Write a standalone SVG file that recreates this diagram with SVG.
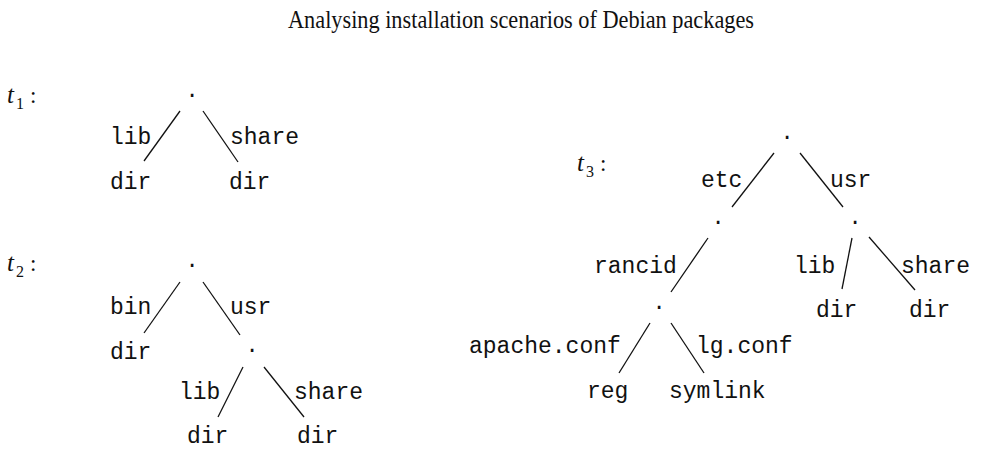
<svg xmlns="http://www.w3.org/2000/svg" width="984" height="452" viewBox="0 0 984 452">
<style>
.bg{fill:#ffffff}
.title{font-family:"Liberation Serif","DejaVu Serif",serif;font-size:25px;fill:#111}
.tv{font-family:"Liberation Serif","DejaVu Serif",serif;font-style:italic;font-size:25px;fill:#111}
.sub{font-family:"Liberation Serif","DejaVu Serif",serif;font-size:16px;fill:#111}
.col{font-family:"Liberation Serif","DejaVu Serif",serif;font-size:23px;fill:#111}
.tt{font-family:"Liberation Mono","DejaVu Sans Mono",monospace;font-size:23px;fill:#111}
.dot{font-family:"Liberation Mono","DejaVu Sans Mono",monospace;font-size:22px;fill:#111;text-anchor:middle}
.edge{stroke:#111;stroke-width:1.3;fill:none}
</style>
<rect class="bg" x="0" y="0" width="984" height="452"/>
<text class="title" x="288" y="28" textLength="466" lengthAdjust="spacingAndGlyphs">Analysing installation scenarios of Debian packages</text>

<g id="label-t1"><text class="tv" x="7" y="103">t</text><text class="sub" x="16" y="109">1</text><text class="col" x="30" y="103">:</text></g>
<g id="label-t2"><text class="tv" x="7" y="271">t</text><text class="sub" x="16" y="277">2</text><text class="col" x="30" y="271">:</text></g>
<g id="label-t3"><text class="tv" x="577" y="171">t</text><text class="sub" x="586" y="177">3</text><text class="col" x="600" y="171">:</text></g>

<!-- t1 nodes -->
<g id="t1-root"><text class="dot" x="192" y="97">.</text></g>
<g id="t1-lib-dir"><text class="tt" x="110" y="189">dir</text></g>
<g id="t1-share-dir"><text class="tt" x="229" y="189">dir</text></g>

<!-- t2 nodes -->
<g id="t2-root"><text class="dot" x="192" y="267">.</text></g>
<g id="t2-bin-dir"><text class="tt" x="110" y="359">dir</text></g>
<g id="t2-usr"><text class="dot" x="252" y="352">.</text></g>
<g id="t2-lib-dir"><text class="tt" x="187" y="443">dir</text></g>
<g id="t2-share-dir"><text class="tt" x="297" y="443">dir</text></g>

<!-- t3 nodes -->
<g id="t3-root"><text class="dot" x="787" y="139">.</text></g>
<g id="t3-etc"><text class="dot" x="718" y="224">.</text></g>
<g id="t3-usr"><text class="dot" x="855" y="224">.</text></g>
<g id="t3-rancid"><text class="dot" x="659" y="309">.</text></g>
<g id="t3-lib-dir"><text class="tt" x="816" y="317">dir</text></g>
<g id="t3-share-dir"><text class="tt" x="909" y="317">dir</text></g>
<g id="t3-apache-reg"><text class="tt" x="587" y="398">reg</text></g>
<g id="t3-lg-symlink"><text class="tt" x="669" y="398">symlink</text></g>

<g id="connectors">
  <line class="edge" x1="180" y1="111" x2="144" y2="161"/>
  <line class="edge" x1="203" y1="111" x2="238" y2="162"/>
  <line class="edge" x1="180" y1="282" x2="144" y2="333"/>
  <line class="edge" x1="203" y1="282" x2="240" y2="335"/>
  <line class="edge" x1="243" y1="367" x2="218" y2="417"/>
  <line class="edge" x1="264" y1="367" x2="304" y2="417"/>
  <line class="edge" x1="774" y1="153" x2="732" y2="207"/>
  <line class="edge" x1="800" y1="153" x2="843" y2="207"/>
  <line class="edge" x1="708" y1="238" x2="671" y2="292"/>
  <line class="edge" x1="852" y1="238" x2="842" y2="289"/>
  <line class="edge" x1="869" y1="237" x2="915" y2="290"/>
  <line class="edge" x1="650" y1="323" x2="619" y2="373"/>
  <line class="edge" x1="671" y1="323" x2="704" y2="373"/>
  <g id="edge-labels">
    <text class="tt" x="110" y="144">lib</text>
    <text class="tt" x="230" y="144">share</text>
    <text class="tt" x="110" y="314">bin</text>
    <text class="tt" x="230" y="314">usr</text>
    <text class="tt" x="179" y="399">lib</text>
    <text class="tt" x="294" y="399">share</text>
    <text class="tt" x="701" y="187">etc</text>
    <text class="tt" x="830" y="187">usr</text>
    <text class="tt" x="594" y="273">rancid</text>
    <text class="tt" x="794" y="273">lib</text>
    <text class="tt" x="901" y="273">share</text>
    <text class="tt" x="469" y="353">apache.conf</text>
    <text class="tt" x="696" y="353">lg.conf</text>
  </g>
</g>
</svg>
